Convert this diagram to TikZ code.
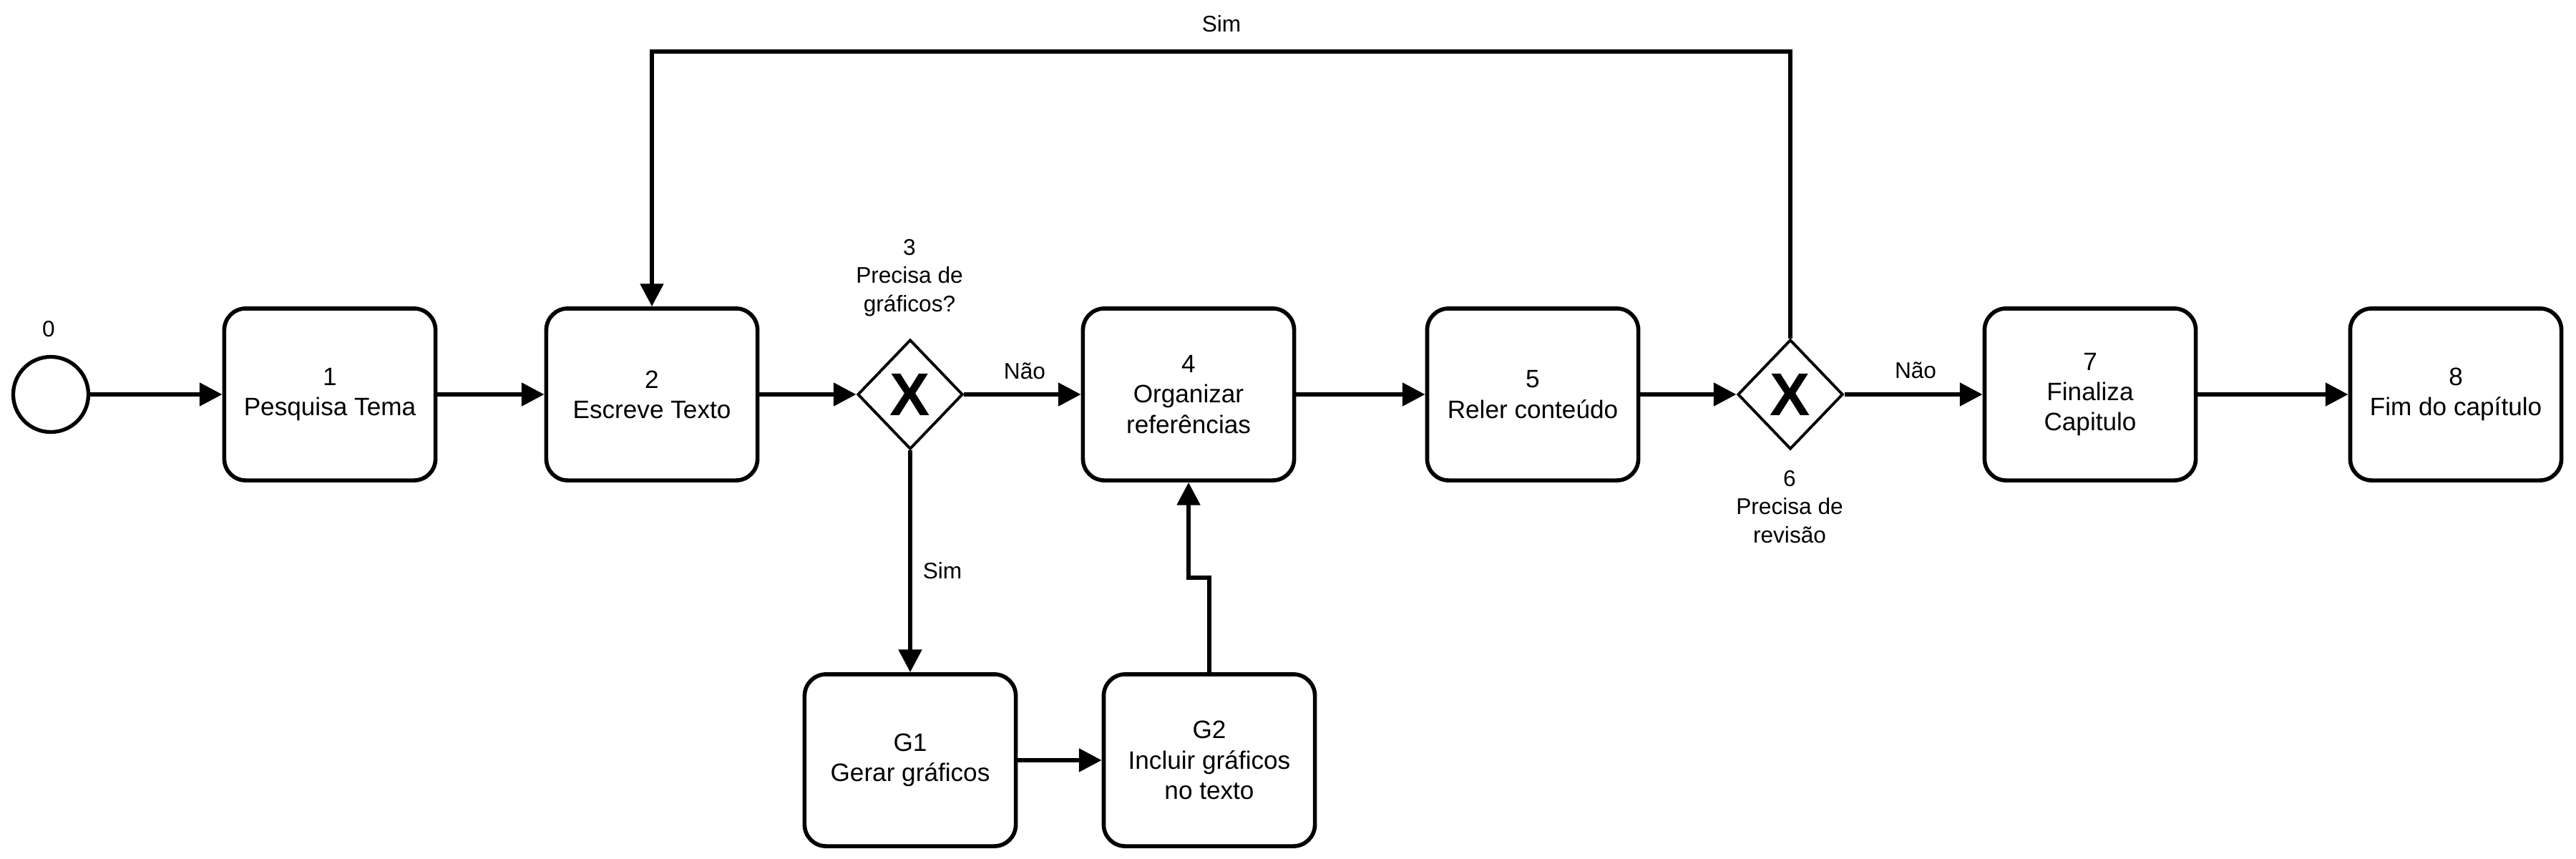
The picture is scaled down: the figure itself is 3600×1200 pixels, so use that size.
\documentclass[tikz,border=0pt]{standalone}
\usepackage{fontspec}
\setmainfont{Liberation Sans}
\usetikzlibrary{arrows.meta,shapes.geometric}
\begin{document}
\begin{tikzpicture}[x=0.01cm,y=-0.01cm,
  task/.style={draw, line width=1.6pt, rounded corners=0.3cm, minimum width=2.95cm, minimum height=2.40cm, align=center, font=\fontsize{10}{12}\selectfont, inner sep=2pt},
  gw/.style={draw, diamond, line width=1.1pt, minimum width=1.47cm, minimum height=1.53cm, inner sep=0pt, font=\fontsize{24}{24}\selectfont\bfseries},
  startev/.style={draw, circle, line width=1.5pt, minimum size=1.05cm, inner sep=0pt},
  lbl/.style={font=\fontsize{9}{11.3}\selectfont, align=center, inner sep=0pt},
  flow/.style={line width=1.7pt, -{Triangle[length=9pt,width=9pt]}},
]
\useasboundingbox (0,0) rectangle (3600,1200);

\node[startev] (s0) at (71,551) {};
\node[lbl] (l0) at (68,460) {0};
\node[task] (b1) at (461,551) {1\\Pesquisa Tema};
\node[task] (b2) at (911,551) {2\\Escreve Texto};
\node[gw] (g3) at (1272,551) {X};
\node[lbl] (l3) at (1271,388) {3\\Precisa de\\gráficos?};
\node[task] (b4) at (1661,551) {4\\Organizar\\referências};
\node[task] (b5) at (2142,551) {5\\Reler conteúdo};
\node[gw] (g6) at (2502,551) {X};
\node[lbl] (l6) at (2501,708) {6\\Precisa de\\revisão};
\node[task] (b7) at (2921,551) {7\\Finaliza\\Capitulo};
\node[task] (b8) at (3432,551) {8\\Fim do capítulo};
\node[task] (G1) at (1272,1062) {G1\\Gerar gráficos};
\node[task] (G2) at (1690,1062) {G2\\Incluir gráficos\\no texto};

\node[lbl] (n1) at (1432,518) {Não};
\node[lbl] (n2) at (2677,517) {Não};
\node[lbl] (s1) at (1317,797) {Sim};
\node[lbl] (s2) at (1707,33) {Sim};

\coordinate (top) at (1700,72);
\coordinate (jog) at (1690,807);

\draw[flow] (s0) -- (b1);
\draw[flow] (b1) -- (b2);
\draw[flow] (b2) -- (g3.west);
\draw[flow] (g3.east) -- (b4.west);
\draw[flow] (b4) -- (b5);
\draw[flow] (b5) -- (g6.west);
\draw[flow] (g6.east) -- (b7.west);
\draw[flow] (b7) -- (b8);
\draw[flow] (g3.south) -- (G1.north);
\draw[flow] (G1) -- (G2);
\draw[flow] (G2.north) -- (jog) -| (b4.south);
\draw[flow] (g6.north) -- (g6.north |- top) -- (b2.north |- top) -- (b2.north);
\end{tikzpicture}
\end{document}
